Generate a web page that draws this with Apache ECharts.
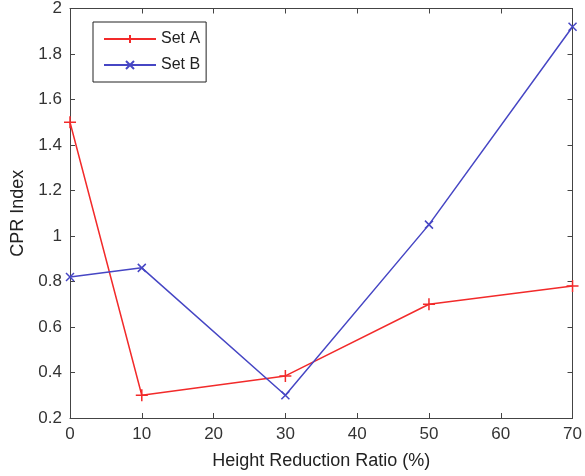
<!DOCTYPE html>
<html>
<head>
<meta charset="utf-8">
<script src="https://cdn.jsdelivr.net/npm/echarts@6/dist/echarts.min.js"></script>
<style>
  html, body { margin: 0; padding: 0; background: #fff; }
  #chart { width: 585px; height: 476px; }
</style>
</head>
<body>
<div id="chart"></div>
<script>
const xValues = [0, 10, 30, 50, 70]
const setA = [1.5, 0.3, 0.385, 0.7, 0.78]
const setB = [0.82, 0.86, 0.3, 1.05, 1.92]

const RED = '#f22a2a'
const BLUE = '#4646c4'
const AXIS = '#444'
const FONT = 'Liberation Sans, Arial, sans-serif'

const PLUS = 'path://M0,-1 L0,1 M-1,0 L1,0'
const CROSS = 'path://M-1,-1 L1,1 M-1,1 L1,-1'

const chart = echarts.init(document.getElementById('chart'))

const axisCommon = {
  axisLine: { show: true, onZero: false, lineStyle: { color: AXIS, width: 1 } },
  axisTick: { show: true, inside: true, length: 5, lineStyle: { color: AXIS } },
  splitLine: { show: false },
  axisLabel: { color: '#333', fontSize: 17, fontFamily: FONT }
}

function pairs(ys) {
  return xValues.map((x, i) => [x, ys[i]])
}

chart.setOption({
  animation: false,
  textStyle: { fontFamily: FONT },
  grid: { left: 70, right: 12, top: 8, bottom: 58 },
  legend: {
    orient: 'vertical',
    left: 93,
    top: 22,
    padding: [9, 6, 9, 10],
    itemGap: 10,
    itemWidth: 52,
    itemHeight: 10,
    borderColor: '#222',
    borderWidth: 1,
    backgroundColor: '#fff',
    textStyle: { fontSize: 16, color: '#222', fontFamily: FONT },
    data: ['Set A', 'Set B']
  },
  xAxis: [
    {
      type: 'value', min: 0, max: 70, interval: 10,
      name: 'Height Reduction Ratio (%)', nameLocation: 'middle', nameGap: 34,
      nameTextStyle: { fontSize: 18, color: '#222', fontFamily: FONT },
      ...axisCommon
    },
    {
      type: 'value', position: 'top', min: 0, max: 70, interval: 10,
      ...axisCommon, axisLabel: { show: false }
    }
  ],
  yAxis: [
    {
      type: 'value', min: 0.2, max: 2, interval: 0.2,
      name: 'CPR Index', nameLocation: 'middle', nameGap: 43,
      nameTextStyle: { fontSize: 18, color: '#222', fontFamily: FONT },
      ...axisCommon
    },
    {
      type: 'value', position: 'right', min: 0.2, max: 2, interval: 0.2,
      ...axisCommon, axisLabel: { show: false }
    }
  ],
  series: [
    {
      name: 'Set A', type: 'line', data: pairs(setA),
      symbol: PLUS, symbolSize: 12,
      lineStyle: { color: RED, width: 1.5 },
      itemStyle: { color: RED, borderColor: RED, borderWidth: 1.5 }
    },
    {
      name: 'Set B', type: 'line', data: pairs(setB),
      symbol: CROSS, symbolSize: 8,
      lineStyle: { color: BLUE, width: 1.5 },
      itemStyle: { color: BLUE, borderColor: BLUE, borderWidth: 1.5 }
    }
  ]
})
</script>
</body>
</html>
